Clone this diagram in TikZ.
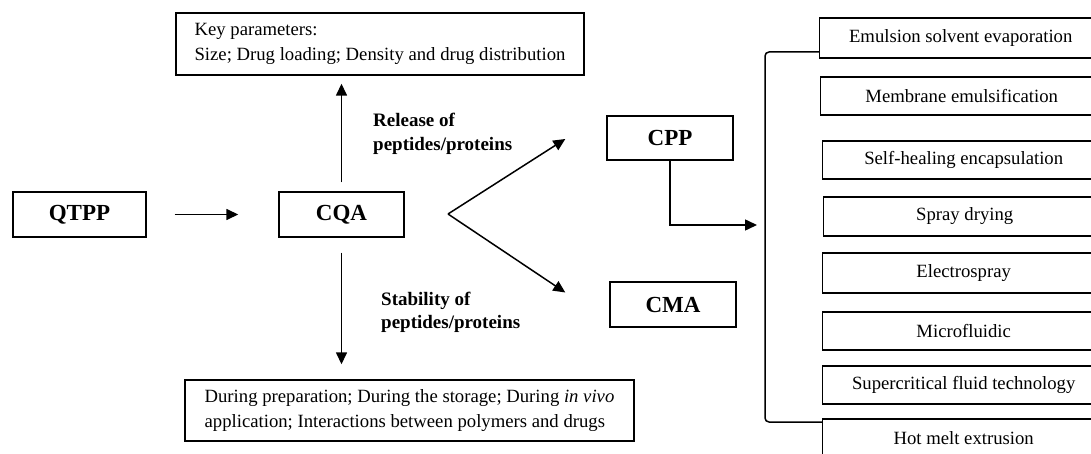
\documentclass[tikz,border=0pt]{standalone}
\usepackage{fontspec}
\setmainfont{Liberation Serif}
\usetikzlibrary{arrows.meta}
\begin{document}
\begin{tikzpicture}[x=1pt,y=-1pt,
  box/.style={draw, line width=1.4pt, inner sep=0pt},
  big/.style={box, font=\fontsize{23}{27}\selectfont\bfseries},
  txt/.style={box, font=\fontsize{18.7}{25}\selectfont, align=left},
  meth/.style={box, anchor=west, minimum width=282pt, font=\fontsize{18.7}{22}\selectfont},
  lbl/.style={font=\fontsize{19}{23.5}\selectfont\bfseries, align=left, anchor=west, inner sep=0pt},
  arr/.style={line width=1.5pt, -{Triangle[length=12pt,width=11pt]}},
  conn/.style={line width=1.5pt}]
\useasboundingbox (0,0) rectangle (1091,454);
\clip (0,0) rectangle (1091,454);
\fill[white] (0,0) rectangle (1091,454);

% main boxes
\node[big, minimum width=133pt, minimum height=45pt] (qtpp) at (79.5,214.5) {QTPP};
\node[big, minimum width=125pt, minimum height=45pt] (cqa) at (341.5,214.5) {CQA};
\node[big, minimum width=126pt, minimum height=44pt] (cpp) at (670,138) {CPP};
\node[big, minimum width=126pt, minimum height=45pt] (cma) at (673,304.5) {CMA};
\node[txt, minimum width=408pt, minimum height=62pt] (key) at (380,44)
  {Key parameters:\\Size; Drug loading; Density and drug distribution};
\node[txt, minimum width=449pt, minimum height=61pt] (stab) at (409.5,410.5)
  {During preparation; During the storage; During \textit{in vivo}\\application; Interactions between polymers and drugs};

% method boxes
\node[meth, minimum height=40pt] (r1) at (819,38) {Emulsion solvent evaporation};
\node[meth, minimum height=38pt] (r2) at (820,96) {Membrane emulsification};
\node[meth, minimum height=38pt] (r3) at (822,160) {Self-healing encapsulation};
\node[meth, minimum height=39pt] (r4) at (823,216.5) {Spray drying};
\node[meth, minimum height=40pt] (r5) at (822,273) {Electrospray};
\node[meth, minimum height=38pt] (r6) at (822,331) {Microfluidic};
\node[meth, minimum height=38pt] (r7) at (822,385) {Supercritical fluid technology};
\node[meth, minimum height=39pt] (r8) at (822,438.5) {Hot melt extrusion};

% labels
\node[lbl] (lrel) at (373,134) {Release of\\peptides/proteins};
\node[lbl] (lstab) at (381,312.5) {Stability of\\peptides/proteins};

% coordinates
\coordinate (fork) at (448,214);
\coordinate (bt) at (765,52);
\coordinate (bb) at (765,422);
\coordinate (cppin) at (757,225);

% connectors
\draw[arr] ([xshift=28pt]qtpp.east) -- ([xshift=-40pt]cqa.west);
\draw[arr] ([yshift=9pt]cqa.north) -- ([yshift=-8pt]cqa.north |- key.south);
\draw[arr] ([yshift=-15pt]cqa.south) -- ([yshift=15pt]cqa.south |- stab.north);
\draw[arr] (fork) -- ([xshift=-41pt,yshift=-1pt]cpp.west);
\draw[arr] (fork) -- ([xshift=-44pt,yshift=12pt]cma.west);
\draw[arr] (cpp.south) |- (cppin);
\draw[conn, rounded corners=4pt] ([yshift=-14pt]r1.west) -- (bt) -- (bb) -- ([yshift=16.5pt]r8.west);
\end{tikzpicture}
\end{document}
